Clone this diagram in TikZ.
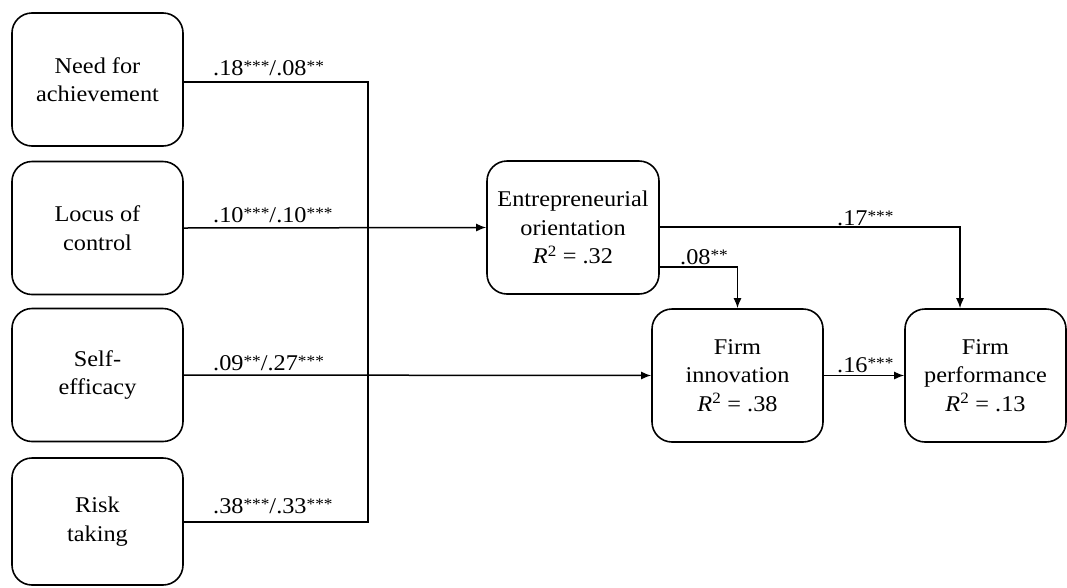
\documentclass[tikz,border=0pt]{standalone}
\usepackage{fontspec}
\setmainfont{Liberation Serif}[FakeStretch=1.08]
\usetikzlibrary{arrows.meta}
\newcommand\sig[1]{{\fontsize{16}{16}\selectfont\raisebox{0.22em}{#1}}}
\newcommand\rsq{\textit{R}\textsuperscript{2}}
\begin{document}
\begin{tikzpicture}[x=1pt,y=-1pt,
  box/.style={draw, line width=1.6pt, rounded corners=20pt, align=center,
    font=\fontsize{22.5}{28.5}\selectfont, inner sep=0pt},
  leftbox/.style={box, minimum width=171pt, minimum height=133pt},
  midbox/.style={box, minimum width=171pt, minimum height=133pt},
  link/.style={line width=1.5pt},
  arr/.style={link, -{Latex[length=10pt,width=8pt]}},
  coef/.style={font=\fontsize{22.5}{25}\selectfont, inner sep=0pt, anchor=base west}]
\useasboundingbox (0,0) rectangle (1067,587);

% antecedents
\node[leftbox] (nach) at (97.5,79.5) {Need for\\achievement};
\node[leftbox] (loc)  at (97.5,228) {Locus of\\control};
\node[leftbox] (self) at (97.5,375) {Self-\\efficacy};
\node[leftbox, minimum height=127pt] (risk) at (97.5,521.5) {Risk\\taking};

% mediator and outcomes
\node[box, minimum width=172pt, minimum height=133pt] (eo) at (573,227.5)
  {Entrepreneurial\\orientation\\\rsq{} = .32};
\node[midbox] (fi) at (737.5,375.5) {Firm\\innovation\\\rsq{} = .38};
\node[box, minimum width=161pt, minimum height=133pt] (fp) at (985.5,375.5)
  {Firm\\performance\\\rsq{} = .13};

% collecting bus
\coordinate (bus) at (368,0);
\draw[link] (nach.east |- 0,82) -- (bus |- 0,82) -- (bus |- 0,522) -- (risk.east |- 0,522);
\draw[arr] (loc.east) -- (eo.west);
\draw[arr] (self.east) -- (fi.west);

% paths from the mediator
\coordinate (drop) at (960,0);
\draw[arr] (eo.east |- 0,227) -- (drop |- 0,227) -- (drop |- fp.north);
\draw[arr] (eo.east |- 0,267) -- (fi.north |- 0,267) -- (fi.north);
\draw[arr] (fi.east) -- (fp.west);

% coefficients
\node[coef] (c1) at (213,75)  {.18\sig{***}/.08\sig{**}};
\node[coef] (c2) at (213,222) {.10\sig{***}/.10\sig{***}};
\node[coef] (c3) at (213,370) {.09\sig{**}/.27\sig{***}};
\node[coef] (c4) at (213,513) {.38\sig{***}/.33\sig{***}};
\node[coef] (c5) at (837,225) {.17\sig{***}};
\node[coef] (c6) at (680,264) {.08\sig{**}};
\node[coef] (c7) at (837,372) {.16\sig{***}};
\end{tikzpicture}
\end{document}
